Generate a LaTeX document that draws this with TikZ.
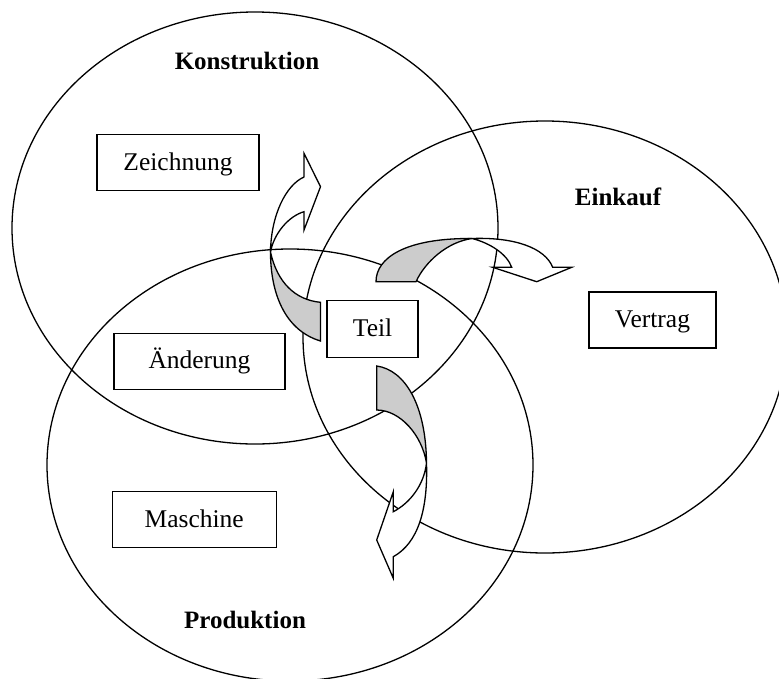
\documentclass[tikz,border=0pt]{standalone}
\usepackage{fontspec}
\setmainfont{Liberation Serif}
\definecolor{backgrey}{RGB}{204,204,204}
\begin{document}
\begin{tikzpicture}[x=1pt,y=-1pt,
  line width=1.3pt,
  area/.style={draw, line width=1.3pt},
  itembox/.style={draw, fill=white, rectangle, inner sep=0pt,
    text height=21pt, text depth=6pt,
    font=\fontsize{25.5}{30}\selectfont},
  areatitle/.style={inner sep=0pt, font=\fontsize{25}{30}\selectfont\bfseries},
  backface/.style={draw, fill=backgrey, line join=miter},
  frontface/.style={draw, fill=white, line join=miter}]
\useasboundingbox (0,0) rectangle (779,678);
\fill[white] (0,0) rectangle (779,678);

% the three departments
\draw[area] (255,228) ellipse [x radius=243pt, y radius=216pt];
\draw[area] (545,337) ellipse [x radius=242pt, y radius=216pt];
\draw[area] (290,465) ellipse [x radius=243pt, y radius=216pt];

% curved arrow from the part up into Konstruktion
\draw[backface] (270.5,252) .. controls (270.5,292) and (284,330) .. (320.5,341)
  -- (320.5,302.3) .. controls (295,300) and (277,282) .. (270.5,252) -- cycle;
\draw[frontface] (304,177) -- (304,153.3) -- (320.5,186.7) -- (304,230) -- (304,211.7)
  .. controls (289,216) and (274,233) .. (270.5,252)
  .. controls (271,215) and (286,185) .. (304,177) -- cycle;

% curved arrow over to Einkauf
\draw[backface] (376,281.7) .. controls (376,258) and (405,238) .. (472,238.5)
  .. controls (447,242) and (425,262) .. (416,281.7) -- cycle;
\draw[frontface] (472,238.5) .. controls (515,237) and (545,248) .. (552.7,267.3)
  -- (571.7,267.3) -- (536.7,281.7) -- (492.7,267.3) -- (511.7,267.3)
  .. controls (507,254) and (490,243) .. (472,238.5) -- cycle;

% curved arrow down into Produktion
\draw[backface] (376.7,366) .. controls (405,370) and (426,405) .. (426.5,463)
  .. controls (422,435) and (400,410) .. (376.7,410) -- cycle;
\draw[frontface] (426.5,463) .. controls (428,510) and (418,543) .. (393.3,556.7)
  -- (393.3,578.3) -- (376.7,540) -- (393.3,491.7) -- (393.3,511.7)
  .. controls (410,503) and (424,485) .. (426.5,463) -- cycle;

% items
\node[itembox, minimum width=162pt, minimum height=56pt] (zeichnung) at (178,162.8) {Zeichnung};
\node[itembox, minimum width=171pt, minimum height=56pt] (aenderung) at (199.5,361.2) {Änderung};
\node[itembox, minimum width=164pt, minimum height=56pt] (maschine) at (194.2,519.7) {Maschine};
\node[itembox, minimum width=91pt, minimum height=57pt] (teil) at (372.6,329.2) {Teil};
\node[itembox, minimum width=127pt, minimum height=56pt] (vertrag) at (652.5,319.9) {Vertrag};

% department titles
\node[areatitle] (konstruktion) at (247,60.5) {Konstruktion};
\node[areatitle] (einkauf) at (618,196.7) {Einkauf};
\node[areatitle] (produktion) at (245,620.4) {Produktion};
\end{tikzpicture}
\end{document}
